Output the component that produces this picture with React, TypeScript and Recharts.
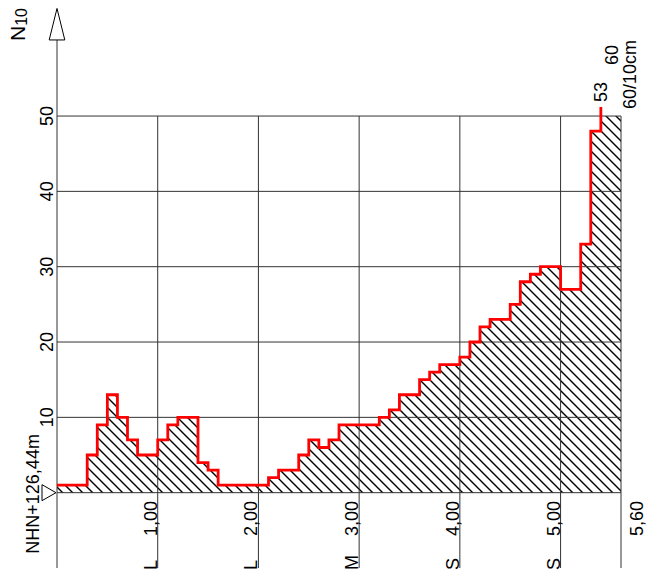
import { ComposedChart, Area, Line, XAxis, YAxis, ReferenceLine, ReferenceDot } from 'recharts'

// depth (m) at the top of every 10 cm step, plus the final depth
const DEPTHS = [
  0, 0.1, 0.2, 0.3, 0.4, 0.5, 0.6, 0.7, 0.8, 0.9,
  1.0, 1.1, 1.2, 1.3, 1.4, 1.5, 1.6, 1.7, 1.8, 1.9,
  2.0, 2.1, 2.2, 2.3, 2.4, 2.5, 2.6, 2.7, 2.8, 2.9,
  3.0, 3.1, 3.2, 3.3, 3.4, 3.5, 3.6, 3.7, 3.8, 3.9,
  4.0, 4.1, 4.2, 4.3, 4.4, 4.5, 4.6, 4.7, 4.8, 4.9,
  5.0, 5.1, 5.2, 5.3, 5.4, 5.5, 5.6,
]

// N10 blows per 10 cm
const BLOWS = [
  1, 1, 1, 5, 9, 13, 10, 7, 5, 5,
  7, 9, 10, 10, 4, 3, 1, 1, 1, 1,
  1, 2, 3, 3, 5, 7, 6, 7, 9, 9,
  9, 9, 10, 11, 13, 13, 15, 16, 17, 17,
  18, 20, 22, 23, 23, 25, 28, 29, 30, 30,
  27, 27, 33, 48, 53, 60,
]

const X_TICKS = [1, 2, 3, 4, 5, 5.6]
const SOIL = ['L', 'L', 'M', 'S', 'S']
const Y_TICKS = [10, 20, 30, 40, 50]
const Y_MAX = 50

const FONT = 'Liberation Sans, Arial, sans-serif'
const FS = 18
const GRID = '#333'

const data = DEPTHS.map((depth, i) => {
  const n = BLOWS[Math.min(i, BLOWS.length - 1)]
  return { depth, n, hatch: Math.min(n, Y_MAX) }
})

const overflow = BLOWS.map((n, i) => ({ depth: DEPTHS[i], n })).filter(p => p.n > Y_MAX)

function DepthTick({ x, payload, index }: any) {
  const v: number = payload.value
  const end = index === X_TICKS.length - 1
  const tx = end ? x + 22 : x - 1
  return (
    <g>
      <text transform={`translate(${tx},536) rotate(-90)`} fontSize={FS} fontFamily={FONT} fill="#000">
        {v.toFixed(2).replace('.', ',')}
      </text>
      {SOIL[index] && (
        <text transform={`translate(${x - 1},570) rotate(-90)`} fontSize={FS} fontFamily={FONT} fill="#000">
          {SOIL[index]}
        </text>
      )}
    </g>
  )
}

function BlowTick({ y, payload }: any) {
  return (
    <text transform={`translate(53,${y}) rotate(-90)`} textAnchor="middle" fontSize={FS} fontFamily={FONT} fill="#000">
      {payload.value}
    </text>
  )
}

function AxisArrow({ cx, cy }: any) {
  return (
    <g>
      <polygon points={`${cx},${cy - 31.5} ${cx - 7.8},${cy} ${cx + 7.8},${cy}`} fill="#fff" stroke="#000" strokeWidth={1} />
      <text transform={`translate(${cx - 32},${cy + 1}) rotate(-90)`} fontFamily={FONT} fill="#000">
        <tspan fontSize={21}>N</tspan>
        <tspan fontSize={16} dy={2}>10</tspan>
      </text>
    </g>
  )
}

function LevelMark({ cx, cy }: any) {
  return (
    <g>
      <polygon points={`${cx - 15},${cy - 8} ${cx - 1},${cy} ${cx - 15},${cy + 8}`} fill="#fff" stroke="#000" strokeWidth={1} />
      <text transform={`translate(${cx - 18.5},${cy + 61}) rotate(-90)`} fontSize={FS} fontFamily={FONT} fill="#000">
        NHN+126,44m
      </text>
    </g>
  )
}

function OverflowLabel({ cx, cy, n, i, last }: any) {
  const dx = i === 0 ? 0 : 1.5
  const up = i === 0 ? 14 : 51
  return (
    <g>
      <text transform={`translate(${cx + dx},${cy - up}) rotate(-90)`} dominantBaseline="central" fontSize={FS} fontFamily={FONT} fill="#000">
        {n}
      </text>
      {last && (
        <text transform={`translate(${cx + 19},${cy - 7}) rotate(-90)`} dominantBaseline="central" fontSize={FS} fontFamily={FONT} fill="#000">
          {`${n}/10cm`}
        </text>
      )}
    </g>
  )
}

export default function App() {
  return (
    <div style={{ position: 'absolute', left: 0, top: 0 }}>
      <ComposedChart width={651} height={584} data={data} margin={{ top: 107, right: 30, bottom: 0, left: 0 }}>
        <defs>
          <pattern id="hatch" width="10" height="10" patternUnits="userSpaceOnUse">
            <path d="M-5,5 L5,15 M0,0 L10,10 M5,-5 L15,5" stroke="#000" strokeWidth={1.4} />
          </pattern>
        </defs>
        <XAxis
          type="number" dataKey="depth" domain={[0, 5.6]} ticks={X_TICKS} interval={0}
          height={16} axisLine={false} tickLine={false} tickSize={0} tick={DepthTick} allowDataOverflow
        />
        <YAxis
          type="number" domain={[-10, 51.2]} ticks={Y_TICKS} interval={0}
          width={57} axisLine={false} tickLine={false} tickSize={0} tick={BlowTick} allowDataOverflow
        />
        <Area type="stepAfter" dataKey="hatch" fill="url(#hatch)" fillOpacity={1} stroke="none" baseValue={0} isAnimationActive={false} />

        {[0, ...Y_TICKS].map(v => (
          <ReferenceLine key={'h' + v} y={v} stroke={GRID} strokeWidth={1} />
        ))}
        {X_TICKS.map(v => (
          <ReferenceLine key={'v' + v} segment={[{ x: v, y: -10 }, { x: v, y: Y_MAX }]} stroke={GRID} strokeWidth={1} />
        ))}
        <ReferenceLine segment={[{ x: 0, y: -10 }, { x: 0, y: 60.1 }]} stroke={GRID} strokeWidth={1} ifOverflow="visible" />
        <ReferenceDot x={0} y={60.1} ifOverflow="visible" shape={AxisArrow} />
        <ReferenceDot x={0} y={0} ifOverflow="visible" shape={LevelMark} />

        <Line type="stepAfter" dataKey="n" stroke="#ff0000" strokeWidth={2.8} dot={false} isAnimationActive={false} />

        {overflow.map((p, i) => (
          <ReferenceDot
            key={'o' + i} x={p.depth} y={Y_MAX} ifOverflow="visible"
            shape={(props: any) => <OverflowLabel {...props} n={p.n} i={i} last={i === overflow.length - 1} />}
          />
        ))}
      </ComposedChart>
    </div>
  )
}
